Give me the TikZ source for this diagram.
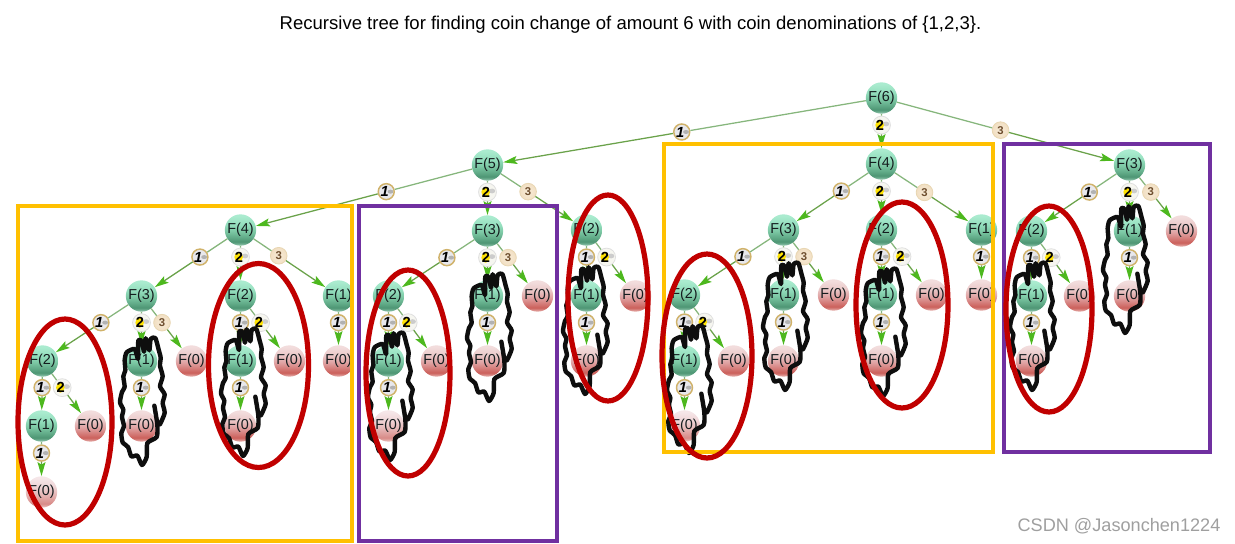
\documentclass[tikz,border=0pt]{standalone}
\usepackage{fontspec}
\setmainfont{Liberation Sans}
\usetikzlibrary{calc,arrows.meta,shapes.geometric}
\definecolor{boxyellow}{HTML}{FFC000}
\definecolor{boxpurple}{HTML}{7030A0}
\definecolor{ringred}{HTML}{C00000}
\definecolor{inkdark}{HTML}{141C1E}
\definecolor{edgeup}{HTML}{86B67C}
\definecolor{edgelow}{HTML}{6AA24A}
\definecolor{tipgreen}{HTML}{4DB81E}
\definecolor{ga}{HTML}{AAEBCF}\definecolor{gb}{HTML}{96E0C0}\definecolor{gc}{HTML}{7CC8A4}\definecolor{gd}{HTML}{4D9573}\definecolor{ge}{HTML}{8CC4AA}
\definecolor{ra}{HTML}{F2DCDC}\definecolor{rb}{HTML}{EBCACA}\definecolor{rc}{HTML}{E0A4A4}\definecolor{rd}{HTML}{CB5F5A}\definecolor{re}{HTML}{E4ACA8}
\definecolor{pa}{HTML}{F5E6E8}\definecolor{pb}{HTML}{F0D6D8}\definecolor{pc}{HTML}{E7BCBC}\definecolor{pd}{HTML}{D88A86}\definecolor{pe}{HTML}{EAC0BE}
\definecolor{ca}{HTML}{F8ECD8}\definecolor{cb}{HTML}{F0DCBE}\definecolor{cc}{HTML}{E2C8A0}
\definecolor{goldring}{HTML}{D0B26A}\definecolor{coinface}{HTML}{E8E8EC}\definecolor{silverface}{HTML}{F6F6F0}
\definecolor{peachring}{HTML}{E8D6B2}\definecolor{brownink}{HTML}{6E4E2E}\definecolor{cloudink}{HTML}{0E0E0E}
\pgfdeclareverticalshading{greenball}{100bp}{color(0bp)=(ge);color(26bp)=(ge);color(31bp)=(gd);color(48bp)=(gc);color(60bp)=(gb);color(72bp)=(ga);color(100bp)=(ga)}
\pgfdeclareverticalshading{redball}{100bp}{color(0bp)=(re);color(26bp)=(re);color(31bp)=(rd);color(48bp)=(rc);color(60bp)=(rb);color(72bp)=(ra);color(100bp)=(ra)}
\pgfdeclareverticalshading{paleball}{100bp}{color(0bp)=(pe);color(26bp)=(pe);color(31bp)=(pd);color(48bp)=(pc);color(60bp)=(pb);color(72bp)=(pa);color(100bp)=(pa)}
\pgfdeclareradialshading{peachcoin}{\pgfpoint{0bp}{0bp}}{color(0bp)=(ca);color(30bp)=(cb);color(50bp)=(cc)}
\tikzset{
 x=.75pt,y=-.75pt,
 ball/.style={circle,inner sep=0pt,minimum size=23.5pt,text=inkdark,font=\fontsize{10.8}{12}\selectfont},
 gball/.style={ball,shading=greenball},
 rball/.style={ball,shading=redball},
 pball/.style={ball,shading=paleball},
 coin1/.style={circle,inner sep=0pt,minimum size=12pt,draw=goldring,line width=1.1pt,fill=coinface,
   path picture={\fill[gray!60] ([xshift=3.2pt]path picture bounding box.center) ellipse (2.2pt and 1.5pt);}},
 coin2/.style={circle,inner sep=0pt,minimum size=13.4pt,draw=gray!25,line width=.6pt,fill=silverface,
   path picture={\fill[gray!40] ([xshift=3.4pt,yshift=.8pt]path picture bounding box.center) ellipse (2.4pt and 1.8pt);
     \fill[yellow!85!orange] ([xshift=-1.4pt]path picture bounding box.center) ellipse (3.2pt and 3.8pt);}},
 coin3/.style={circle,inner sep=0pt,minimum size=12.5pt,shading=peachcoin,draw=peachring,line width=.6pt,text=brownink},
 upedge/.style={draw=edgeup,line width=.95pt},
 lowedge/.style={draw=edgelow,line width=.95pt,-{Stealth[length=10.5pt,width=6pt,inset=2pt,color=tipgreen]}},
 frame/.style={line width=3pt,draw=#1},
 ring/.style={line width=3.9pt,draw=ringred},
 cloudline/.style={line width=3.3pt,draw=cloudink,line join=round,line cap=round},
}
\newcommand\cointextA{\makebox[0pt]{\kern-2.4pt\fontsize{11}{11}\selectfont\bfseries\itshape 1}}
\newcommand\cointextB{\makebox[0pt]{\kern-2.4pt\fontsize{11}{11}\selectfont\bfseries 2}}
\newcommand\cointextC{\fontsize{8.5}{9}\selectfont\bfseries 3}
\newcommand\link[5]{%
 \node[coin#3] (coin-#2) at ($(#1)!#4!(#2)$) {#5};
 \draw[upedge] (#1) -- (coin-#2);
 \draw[lowedge] (coin-#2) -- (#2);
}
\newcommand\one[3][.41]{\link{#2}{#3}{1}{#1}{\cointextA}}
\newcommand\two[3][.41]{\link{#2}{#3}{2}{#1}{\cointextB}}
\newcommand\three[3][.41]{\link{#2}{#3}{3}{#1}{\cointextC}}
\begin{document}
\begin{tikzpicture}
\useasboundingbox (0,0) rectangle (1235,543);
\node[font=\fontsize{13.9}{15}\selectfont,text=black] (title) at (630.5,25) {Recursive tree for finding coin change of amount 6 with coin denominations of \{1,2,3\}.};
% tree nodes
\foreach \n/\x/\y/\t in {r/881.5/98/6,a/487.5/165/5,b/881.5/164/4,c/1129.5/165/3,
 aa/240.5/230/4,ab/487.5/231/3,ac/586.5/230/2,
 aaa/141.5/296/3,aab/240.5/296/2,aac/338.5/296/1,aaaa/42.5/361/2,aaab/141.5/361/1,aaaaa/41.5/426/1,aaba/240.5/361/1,
 aba/388.5/296/2,abb/487.5/296/1,abaa/388.5/361/1,aca/586.5/296/1,
 ba/783.5/230/3,bb/881.5/230/2,bc/981.5/230/1,baa/684.5/295/2,bab/783.5/295/1,baaa/684.5/361/1,bba/881.5/295/1,
 ca/1031.5/231/2,cb/1129.5/231/1,caa/1031.5/296/1}
 {\node[gball] (\n) at (\x,\y) {F(\t)};}
\foreach \n/\x/\y in {aaac/191.5/361,aaaab/90.5/426,aaaba/141.5/426,aabb/289.5/361,aabaa/240.5/426,aaca/338.5/361,
 abc/537.5/296,abab/436.5/361,abba/487.5/361,acb/635.5/296,acaa/586.5/361,
 bac/833.5/295,baab/733.5/361,baba/783.5/361,bbb/931.5/295,bbaa/881.5/361,bca/981.5/295,
 cc/1181.5/231,cab/1079.5/296,caaa/1031.5/361,cba/1129.5/296}
 {\node[rball] (\n) at (\x,\y) {F(0)};}
\foreach \n/\x/\y in {aaaaaa/41.5/492,abaaa/388.5/426,baaaa/684.5/426}
 {\node[pball] (\n) at (\x,\y) {F(0)};}
% links with coins
\one[.507]{r}{a} \two{r}{b} \three[.48]{r}{c}
\one{a}{aa} \two{a}{ab} \three{a}{ac}
\one{aa}{aaa} \two{aa}{aab} \three[.39]{aa}{aac}
\one{aaa}{aaaa} \two{aaa}{aaab} \three{aaa}{aaac}
\one{aaaa}{aaaaa} \two{aaaa}{aaaab} \one{aaaaa}{aaaaaa}
\one{aaab}{aaaba}
\one{aab}{aaba} \two{aab}{aabb} \one{aaba}{aabaa}
\one{aac}{aaca}
\one{ab}{aba} \two{ab}{abb} \three{ab}{abc}
\one{aba}{abaa} \two{aba}{abab} \one{abaa}{abaaa}
\one{abb}{abba}
\one{ac}{aca} \two{ac}{acb} \one{aca}{acaa}
\one{b}{ba} \two{b}{bb} \three[.43]{b}{bc}
\one{ba}{baa} \two{ba}{bab} \three{ba}{bac}
\one{baa}{baaa} \two{baa}{baab} \one{baaa}{baaaa}
\one{bab}{baba}
\one{bb}{bba} \two{bb}{bbb} \one{bba}{bbaa}
\one{bc}{bca}
\one{c}{ca} \two{c}{cb} \three{c}{cc}
\one{ca}{caa} \two{ca}{cab} \one{caa}{caaa}
\one{cb}{cba}
% scribbled clouds
\foreach \cx/\cy in {120/337,221/328,368/332,467/273,563/266,667/325,763/262,861/268,1010/262,1103/205}{
 \begin{scope}[shift={(\cx,\cy)},x=.25pt,y=-.25pt]
 \draw[cloudline] plot[smooth,tension=.4] coordinates {
  (103,206) (112,263) (110,300) (82,318) (80,360) (66,384) (52,356) (34,358) (24,330) (8,316) (4,288) (12,268)
  (6,240) (10,218) (0,196) (6,165) (14,150) (10,118) (16,100) (14,70) (20,46) (44,36) (54,66) (55,10) (66,14) (72,44) (77,4) (88,40) (92,6) (106,3)
  (116,38) (122,62) (120,86) (128,118) (120,148) (134,172) (128,198) (134,228) (120,262)};
 \end{scope}}
% frames
\draw[frame=boxyellow] (18,206) rectangle (352,541);
\draw[frame=boxpurple] (359,206) rectangle (557,541);
\draw[frame=boxyellow] (664,144) rectangle (993,452);
\draw[frame=boxpurple] (1004,144) rectangle (1210,452);
% ellipses
\foreach \ex/\ey/\ea/\eb in {65/422/47/103,258.5/365.5/50/102,408/373/42/103,608/298/40/103,707/356/45/102,902/305/46/103,1049/309/43/103}
 {\draw[ring] (\ex,\ey) ellipse [x radius=\ea*.75pt,y radius=\eb*.75pt];}
\node[font=\fontsize{13.6}{15}\selectfont,text=gray!75] (mark) at (1119,526) {CSDN @Jasonchen1224};
\end{tikzpicture}
\end{document}
